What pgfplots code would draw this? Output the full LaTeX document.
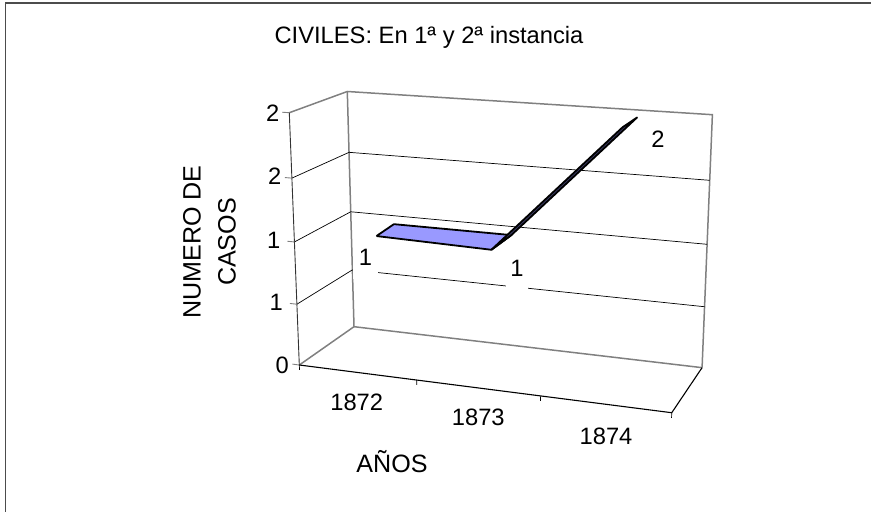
\documentclass[border=0pt]{standalone}
\usepackage{pgfplots}
\usepackage{fontspec}
\setmainfont{Liberation Sans}
\pgfplotsset{compat=1.18}
% c = position along the category axis (0..3), d = depth (0..1), v = value (0..2)
\pgfkeys{/pgfplots/table/proj/.style={row sep=\\,
    x expr={px(\thisrow{c},\thisrow{d},\thisrow{v})},
    y expr={py(\thisrow{c},\thisrow{d},\thisrow{v})}}}
\newcommand{\lbl}{\fontsize{23.8}{35}\selectfont}
\newcommand{\lblb}{\fontsize{25.2}{35}\selectfont}
\begin{document}
\begin{tikzpicture}[
    declare function={
      pw(\c,\d,\v)=1-0.08*\c/3+0.077*\d-0.048*\v/2;
      px(\c,\d,\v)=(299.3+318.7*\c/3+81.96*\d-23.9*\v/2)/pw(\c,\d,\v);
      py(\c,\d,\v)=(365+14.7*\c/3-13.15*\d-257.7*\v/2)/pw(\c,\d,\v);
    }]
\useasboundingbox (0,0) rectangle (871bp,512bp);
\begin{axis}[
    scale only axis, width=871bp, height=512bp,
    xmin=0, xmax=871, ymin=0, ymax=512, y dir=reverse,
    hide axis, clip=false,
    every axis plot/.append style={no markers},
  ]
  % chart area edge (only top and left show)
  \draw[black!70, line width=1.5bp] (axis cs:5.7,512) -- (axis cs:5.7,3) -- (axis cs:871,3);

  % walls and floor
  \addplot[gray, line width=1.5bp] table[proj] {c d v\\ 0 0 0\\ 0 1 0\\ 3 1 0\\};
  \addplot[gray, line width=1.5bp] table[proj] {c d v\\ 0 0 2\\ 0 1 2\\ 3 1 2\\ 3 1 0\\};
  \addplot[gray, line width=1.5bp] table[proj] {c d v\\ 0 1 0\\ 0 1 2\\};
  % gridlines
  \pgfplotsinvokeforeach{0.5,1,1.5}{
    \addplot[black, line width=0.7bp] table[proj] {c d v\\ 0 0 #1\\ 0 1 #1\\ 3 1 #1\\};
  }
  % front axes
  \addplot[black!80, line width=0.9bp] table[proj] {c d v\\ 0 0 0\\ 0 0 2\\};
  \addplot[black, line width=1.1bp] table[proj] {c d v\\ 0 0 0\\ 3 0 0\\ 3 1 0\\};
  \pgfplotsinvokeforeach{0,0.5,1,1.5,2}{
    \addplot[gray, line width=0.9bp] table[proj] {c d v\\ -0.06 0 #1\\ 0 0 #1\\};
  }
  \pgfplotsinvokeforeach{0,1,2,3}{
    \addplot[black, line width=0.7bp] table[proj] {c d v\\ #1 0 0\\ #1 0 -0.04\\};
  }

  % data labels cut the gridlines behind them
  \node[fill=white, font=\lbl, inner sep=0pt, minimum width=25bp, minimum height=44bp] at (axis cs:365.5,257) {1};
  \node[fill=white, font=\lbl, inner sep=0pt, minimum width=22bp, minimum height=44bp] at (axis cs:517,268) {1};
  \node[font=\lbl, inner sep=0pt] at (axis cs:658,139) {2};

  % series: 1872 = 1, 1873 = 1, 1874 = 2
  \definecolor{serie}{RGB}{153,153,255}
  \addplot[fill=serie, draw=black, line width=1.8bp, line join=round] table[proj]
    {c d v\\ 0.52 0.37 1\\ 1.5 0.3 1\\ 1.5 0.75 1\\ 0.5 0.75 1\\ 0.52 0.37 1\\};
  \addplot[fill=serie!40!black, draw=black, line width=1.8bp, line join=round] table[proj]
    {c d v\\ 1.5 0.3 1\\ 2.5 0.3 2\\ 2.5 0.7 2\\ 1.5 0.75 1\\ 1.5 0.3 1\\};

  % value tick labels (Excel rounds 0.5 steps to no decimals)
  \node[font=\lbl, anchor=east, inner sep=0pt] at (axis cs:279.5,113) {2};
  \node[font=\lbl, anchor=east, inner sep=0pt] at (axis cs:281.5,176.5) {2};
  \node[font=\lbl, anchor=east, inner sep=0pt] at (axis cs:280.5,240) {1};
  \node[font=\lbl, anchor=east, inner sep=0pt] at (axis cs:283,302) {1};
  \node[font=\lbl, anchor=east, inner sep=0pt] at (axis cs:289,365) {0};
  % category labels
  \node[font=\lbl, inner sep=0pt] at (axis cs:356.7,402.7) {1872};
  \node[font=\lbl, inner sep=0pt] at (axis cs:478.3,417.7) {1873};
  \node[font=\lbl, inner sep=0pt] at (axis cs:606,436) {1874};
  % titles
  \node[font=\lbl, anchor=base, inner sep=0pt] at (axis cs:429,43.5) {CIVILES: En 1ª y 2ª instancia};
  \node[font=\lblb, anchor=base, inner sep=0pt] at (axis cs:392,472.5) {AÑOS};
  \node[font=\lblb, rotate=90, align=center, inner sep=0pt] at (axis cs:209.5,242) {NUMERO DE\\CASOS};
\end{axis}
\end{tikzpicture}
\end{document}
